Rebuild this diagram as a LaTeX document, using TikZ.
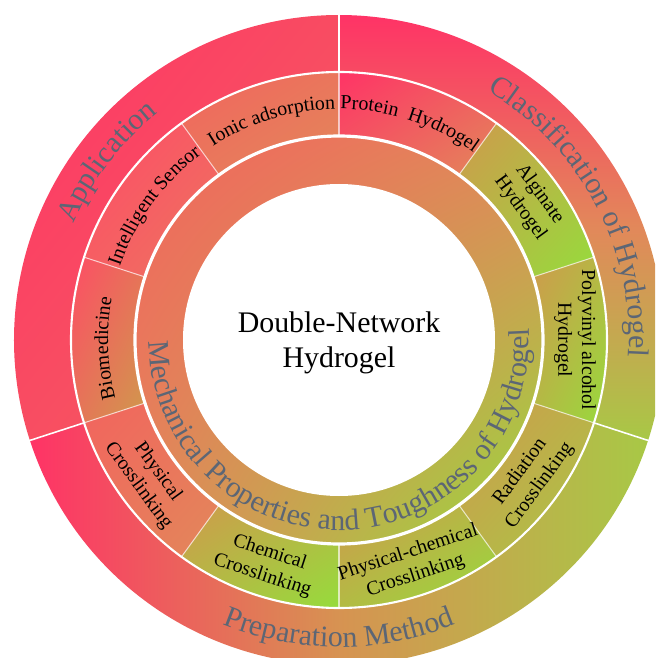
\documentclass[tikz,border=0pt]{standalone}
\usepackage{fontspec}
\setmainfont{Liberation Serif}
\usetikzlibrary{decorations.text,shadings}

\definecolor{rosered}{HTML}{FF3366}
\definecolor{pinkish}{HTML}{FF4A66}
\definecolor{salmon}{HTML}{F2645E}
\definecolor{coral}{HTML}{EC7560}
\definecolor{apricot}{HTML}{E2885A}
\definecolor{ochre}{HTML}{CF9A4C}
\definecolor{lime}{HTML}{A8C846}
\definecolor{leaf}{HTML}{96DC3C}
\definecolor{slate}{HTML}{5C6675}

\newcommand\bigfont{\fontsize{17}{20}\selectfont}
\newcommand\midfont{\fontsize{11.3}{13.6}\selectfont}

% annular sector: inner radius, outer radius, start angle, end angle, shading
\newcommand\RingPart[5]{%
    \shade[#5] (#3:#1) arc[start angle=#3, end angle=#4, radius=#1]
        -- (#4:#2) arc[start angle=#4, end angle=#3, radius=#2] -- cycle;
}

\tikzset{
    diag/.style 2 args={upper left=#1, lower right=#2,
        upper right=#1!50!#2, lower left=#1!50!#2},
    bigarc/.style={decorate, decoration={text along path, text align=center,
        text color=slate, text={|\bigfont|#1}}},
    midarc/.style={decorate, decoration={text along path, text align=center,
        text={|\midfont|#1}}},
    midlabel/.style={align=center, font=\midfont, inner sep=1pt},
    outerdiv/.style={white, line width=0.9pt},
    innerdiv/.style={white, opacity=0.65, line width=0.6pt},
}

\begin{document}
\begin{tikzpicture}
    \useasboundingbox (-6.78,-6.36) rectangle (6.32,6.8);
    \fill[white] (-6.78,-6.36) rectangle (6.32,6.8);
    \clip (-6.78,-6.36) rectangle (6.32,6.8);

    % outer ring
    \RingPart{5.36}{6.5}{90}{198}{diag={rosered}{salmon}}
    \RingPart{5.36}{6.5}{-18}{90}{top color=rosered, bottom color=lime, middle color=apricot}
    \RingPart{5.36}{6.5}{198}{342}{left color=rosered, right color=lime, middle color=ochre!60!apricot}

    % middle ring
    \RingPart{4.08}{5.36}{90}{126}{diag={salmon}{apricot}}
    \RingPart{4.08}{5.36}{54}{90}{diag={rosered}{apricot}}
    \RingPart{4.08}{5.36}{18}{54}{diag={ochre}{leaf}}
    \RingPart{4.08}{5.36}{-18}{18}{diag={ochre}{leaf}}
    \RingPart{4.08}{5.36}{-54}{-18}{diag={ochre}{lime}}
    \RingPart{4.08}{5.36}{-90}{-54}{diag={ochre}{leaf}}
    \RingPart{4.08}{5.36}{-126}{-90}{diag={ochre}{leaf}}
    \RingPart{4.08}{5.36}{-162}{-126}{diag={salmon}{apricot}}
    \RingPart{4.08}{5.36}{162}{198}{diag={pinkish}{ochre}}
    \RingPart{4.08}{5.36}{126}{162}{diag={pinkish}{coral}}

    % inner ring and hole
    \shade[upper left=salmon, upper right=apricot, lower left=apricot, lower right=leaf]
        (0,0) circle (4.08);
    \fill[white] (0,0) circle (3.12);

    \foreach \a in {90,-18,198}
        \draw[outerdiv] (\a:5.36) -- (\a:6.6);
    \foreach \a in {90,54,...,-234}
        \draw[innerdiv] (\a:4.08) -- (\a:5.36);
    \draw[white, line width=1.2pt] (0,0) circle (5.36);
    \draw[white, line width=1.8pt] (0,0) circle (4.08);

    \node[align=center, font=\bigfont] (dnh) at (0,-0.05) {Double-Network\\Hydrogel};

    % ring titles
    \path[bigarc=Application] (190:5.8) arc[start angle=190, end angle=95, radius=5.8];
    \path[bigarc=Classification of Hydrogel] (80:5.8) arc[start angle=80, end angle=-24, radius=5.8];
    \path[bigarc=Preparation Method] (200:6.14) arc[start angle=200, end angle=340, radius=6.14];
    \path[bigarc=Mechanical Properties and Toughness of Hydrogel]
        (160:3.8) arc[start angle=160, end angle=384, radius=3.8];

    % middle ring labels
    \path[midarc=Ionic adsorption] (137:4.62) arc[start angle=137, end angle=77, radius=4.62];
    \path[midarc=Protein {~}Hydrogel] (102:4.62) arc[start angle=102, end angle=42, radius=4.62];
    \path[midarc=Intelligent Sensor] (174:4.62) arc[start angle=174, end angle=114, radius=4.62];
    \path[midarc=Biomedicine] (212:4.62) arc[start angle=212, end angle=152, radius=4.62];
    \node[midlabel, rotate=-54] (alginate) at (36:4.72) {Alginate\\Hydrogel};
    \node[midlabel, rotate=-90] (pva) at (0:4.72) {Polyvinyl alcohol\\Hydrogel};
    \node[midlabel, rotate=54] (radiation) at (-36:4.72) {Radiation\\Crosslinking};
    \node[midlabel, rotate=18] (physchem) at (-72:4.72) {Physical-chemical\\Crosslinking};
    \node[midlabel, rotate=-18] (chemical) at (-108:4.72) {Chemical\\Crosslinking};
    \node[midlabel, rotate=-54] (physical) at (-144:4.72) {Physical\\Crosslinking};
\end{tikzpicture}
\end{document}
